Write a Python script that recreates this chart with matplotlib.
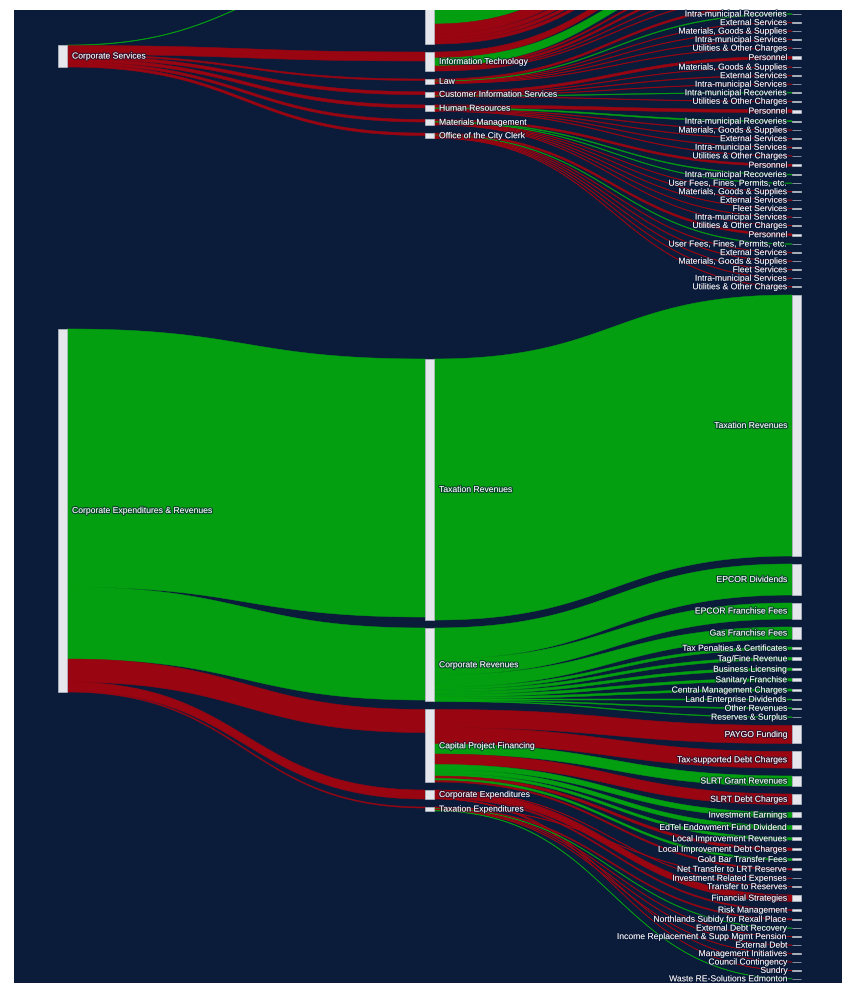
import numpy as np
import matplotlib
matplotlib.use("Agg")
import matplotlib.pyplot as plt
from matplotlib.patches import Rectangle
import matplotlib.patheffects as pe

# ---------------- data ----------------
# column 1 -> column 2 : Corporate Services to its branches
dept_names = ["Fleet Services", "Information Technology", "Law",
              "Customer Information Services", "Human Resources",
              "Materials Management", "Office of the City Clerk"]
cs_values = [0.5, 9, 1.5, 3, 3, 2.5, 2.5]
cs_kinds = ["rev", "exp", "exp", "exp", "exp", "exp", "exp"]

# column 2 -> column 3 : branch budget lines
fleet_cats = ["Personnel", "Intra-municipal Recoveries", "Materials, Goods & Supplies",
              "External Services", "Intra-municipal Services", "Utilities & Other Charges"]
fleet_vals = [24, 36, 10, 4, 3, 3]
it_cats = ["Personnel", "Intra-municipal Recoveries", "Materials, Goods & Supplies",
           "External Services", "Intra-municipal Services", "Utilities & Other Charges"]
it_vals = [6, 8, 1.5, 2, 0.8, 0.7]
law_cats = ["Personnel", "Intra-municipal Recoveries", "External Services",
            "Materials, Goods & Supplies", "Intra-municipal Services", "Utilities & Other Charges"]
law_vals = [2, 0.7, 0.5, 0.5, 0.5, 0.5]
cis_cats = ["Personnel", "Materials, Goods & Supplies", "External Services",
            "Intra-municipal Services", "Intra-municipal Recoveries", "Utilities & Other Charges"]
cis_vals = [2.5, 0.5, 0.6, 0.5, 0.6, 0.5]
hr_cats = ["Personnel", "Intra-municipal Recoveries", "Materials, Goods & Supplies",
           "External Services", "Intra-municipal Services", "Utilities & Other Charges"]
hr_vals = [3, 1.2, 0.6, 0.6, 0.6, 0.6]
mm_cats = ["Personnel", "Intra-municipal Recoveries", "User Fees, Fines, Permits, etc.",
           "Materials, Goods & Supplies", "External Services", "Fleet Services",
           "Intra-municipal Services", "Utilities & Other Charges"]
mm_vals = [2, 0.8, 0.5, 0.45, 0.45, 0.45, 0.45, 0.45]
clerk_cats = ["Personnel", "User Fees, Fines, Permits, etc.", "External Services",
              "Materials, Goods & Supplies", "Fleet Services", "Intra-municipal Services",
              "Utilities & Other Charges"]
clerk_vals = [2, 0.6, 0.6, 0.6, 0.5, 0.5, 0.5]
dept_cats = [fleet_cats, it_cats, law_cats, cis_cats, hr_cats, mm_cats, clerk_cats]
dept_vals = [fleet_vals, it_vals, law_vals, cis_vals, hr_vals, mm_vals, clerk_vals]
revenue_lines = ["Intra-municipal Recoveries", "User Fees, Fines, Permits, etc."]

# column 1 -> column 2 : Corporate Expenditures & Revenues
cer_targets = ["Taxation Revenues", "Corporate Revenues", "Capital Project Financing",
               "Corporate Expenditures", "Taxation Expenditures"]
cer_values = [258, 72, 23, 9, 1]
cer_kinds = ["rev", "rev", "exp", "exp", "exp"]

# column 2 -> column 3 : corporate programs
taxrev_cats = ["Taxation Revenues"]
taxrev_vals = [261]
taxrev_kinds = ["rev"]
corprev_cats = ["EPCOR Dividends", "EPCOR Franchise Fees", "Gas Franchise Fees",
                "Tax Penalties & Certificates", "Tag/Fine Revenue", "Business Licensing",
                "Sanitary Franchise", "Central Management Charges", "Land Enterprise Dividends",
                "Other Revenues", "Reserves & Surplus"]
corprev_vals = [31, 16, 12, 2.5, 2.5, 2.5, 2.5, 2, 0.8, 1, 0.7]
corprev_kinds = ["rev"] * 11
cpf_cats = ["PAYGO Funding", "Tax-supported Debt Charges", "SLRT Grant Revenues",
            "SLRT Debt Charges", "Investment Earnings", "EdTel Endowment Fund Dividend",
            "Local Improvement Revenues", "Local Improvement Debt Charges",
            "Gold Bar Transfer Fees", "Net Transfer to LRT Reserve"]
cpf_vals = [18, 16.5, 10, 10.5, 5, 4, 2.5, 2.5, 2, 1.5]
cpf_kinds = ["exp", "exp", "rev", "exp", "rev", "rev", "rev", "exp", "rev", "exp"]
cexp_cats = ["Transfer to Reserves", "Financial Strategies", "Risk Management",
             "Council Contingency", "Sundry"]
cexp_vals = [0.4, 6.5, 1.3, 0.4, 0.4]
cexp_kinds = ["exp", "exp", "exp", "exp", "exp"]
texp_cats = ["Investment Related Expenses", "Northlands Subidy for Rexall Place",
             "External Debt Recovery", "Income Replacement & Supp Mgmt Pension",
             "External Debt", "Management Initiatives", "Waste RE-Solutions Edmonton"]
texp_vals = [0.5, 1.2, 0.45, 0.45, 0.6, 0.4, 0.4]
texp_kinds = ["exp", "exp", "rev", "exp", "exp", "exp", "rev"]

# order of the corporate lines in the last column
corporate_line_order = ["Taxation Revenues", "EPCOR Dividends", "EPCOR Franchise Fees",
    "Gas Franchise Fees", "Tax Penalties & Certificates", "Tag/Fine Revenue",
    "Business Licensing", "Sanitary Franchise", "Central Management Charges",
    "Land Enterprise Dividends", "Other Revenues", "Reserves & Surplus", "PAYGO Funding",
    "Tax-supported Debt Charges", "SLRT Grant Revenues", "SLRT Debt Charges",
    "Investment Earnings", "EdTel Endowment Fund Dividend", "Local Improvement Revenues",
    "Local Improvement Debt Charges", "Gold Bar Transfer Fees", "Net Transfer to LRT Reserve",
    "Investment Related Expenses", "Transfer to Reserves", "Financial Strategies",
    "Risk Management", "Northlands Subidy for Rexall Place", "External Debt Recovery",
    "Income Replacement & Supp Mgmt Pension", "External Debt", "Management Initiatives",
    "Council Contingency", "Sundry", "Waste RE-Solutions Edmonton"]

# ---------------- style / layout ----------------
NAVY = "#0B1C3B"
GREEN = "#03A70E"
RED = "#A2040F"
NODE_FC = "#E5E7EC"
NODE_EC = "#B9BEC8"
COL_X = [58, 425, 792]
NODE_W = 9
PAD = 8
SCALE = 1.0
FONT = "Liberation Sans"
FS = 6.2
Y_TOP, Y_BOT = 10, 983

nodes = {}   # id -> dict(label, col)
links = []   # (src, tgt, value, kind)


def add_node(nid, label, col):
    if nid not in nodes:
        nodes[nid] = dict(label=label, col=col, vin=0.0, vout=0.0)


add_node("L:CS", "Corporate Services", 0)
add_node("L:CER", "Corporate Expenditures & Revenues", 0)
for d, v, k in zip(dept_names, cs_values, cs_kinds):
    add_node("M:" + d, d, 1)
    links.append(("L:CS", "M:" + d, v, k))
for d, cats, vals in zip(dept_names, dept_cats, dept_vals):
    for c, v in zip(cats, vals):
        add_node("R:" + d + "|" + c, c, 2)
        links.append(("M:" + d, "R:" + d + "|" + c, v,
                      "rev" if c in revenue_lines else "exp"))
for t, v, k in zip(cer_targets, cer_values, cer_kinds):
    add_node("M:" + t, t, 1)
    links.append(("L:CER", "M:" + t, v, k))
for src, cats, vals, kinds in [("Taxation Revenues", taxrev_cats, taxrev_vals, taxrev_kinds),
                               ("Corporate Revenues", corprev_cats, corprev_vals, corprev_kinds),
                               ("Capital Project Financing", cpf_cats, cpf_vals, cpf_kinds),
                               ("Corporate Expenditures", cexp_cats, cexp_vals, cexp_kinds),
                               ("Taxation Expenditures", texp_cats, texp_vals, texp_kinds)]:
    for c, v, k in zip(cats, vals, kinds):
        add_node("R:C|" + c, c, 2)
        links.append(("M:" + src, "R:C|" + c, v, k))

for s, t, v, k in links:
    nodes[s]["vout"] += v
    nodes[t]["vin"] += v
for n in nodes.values():
    n["h"] = max(n["vin"], n["vout"]) * SCALE

# segments: (ordered node ids, anchor id, anchor top y in px)
right_order = []
for d, cats in zip(dept_names, dept_cats):
    right_order += ["R:" + d + "|" + c for c in cats]
right_order += ["R:C|" + c for c in corporate_line_order]
segments = [
    (["L:CS"], "L:CS", 45),
    (["L:CER"], "L:CER", 329),
    (["M:" + d for d in dept_names], "M:Information Technology", 52),
    (["M:" + t for t in cer_targets], "M:Taxation Revenues", 359),
    (right_order, "R:C|Taxation Revenues", 295),
]
for order, anchor, ay in segments:
    y = 0.0
    for nid in order:
        nodes[nid]["y"] = y
        y += nodes[nid]["h"] + PAD
    shift = ay - nodes[anchor]["y"]
    for nid in order:
        nodes[nid]["y"] += shift

# stack links at each node, ordered by the position of the opposite node
out_off, in_off = {}, {}
for nid in nodes:
    outs = sorted([i for i, l in enumerate(links) if l[0] == nid], key=lambda i: nodes[links[i][1]]["y"])
    ins = sorted([i for i, l in enumerate(links) if l[1] == nid], key=lambda i: nodes[links[i][0]]["y"])
    y = nodes[nid]["y"]
    for i in outs:
        out_off[i] = y
        y += links[i][2] * SCALE
    y = nodes[nid]["y"]
    for i in ins:
        in_off[i] = y
        y += links[i][2] * SCALE

# ---------------- drawing ----------------
fig = plt.figure(figsize=(8.42, 9.83), dpi=100)
fig.patch.set_facecolor("white")
ax = fig.add_axes([14 / 842, 0, 828 / 842, (Y_BOT - Y_TOP) / 983])
ax.set_facecolor(NAVY)
ax.set_xlim(14, 842)
ax.set_ylim(Y_BOT, Y_TOP)
ax.set_xticks([])
ax.set_yticks([])
for sp in ax.spines.values():
    sp.set_visible(False)

t = np.linspace(0, 1, 80)
ease = 3 * t ** 2 - 2 * t ** 3
for i, (s, tg, v, k) in enumerate(links):
    x0 = COL_X[nodes[s]["col"]] + NODE_W
    x1 = COL_X[nodes[tg]["col"]]
    xm = (x0 + x1) / 2
    bx = (1 - t) ** 3 * x0 + 3 * (1 - t) ** 2 * t * xm + 3 * (1 - t) * t ** 2 * xm + t ** 3 * x1
    top = out_off[i] + (in_off[i] - out_off[i]) * ease
    bot = top + v * SCALE
    col = GREEN if k == "rev" else RED
    ax.fill(np.concatenate([bx, bx[::-1]]), np.concatenate([top, bot[::-1]]),
            facecolor=col, edgecolor=col, alpha=0.95, lw=0.35, zorder=2)

shadow = [pe.withStroke(linewidth=1.6, foreground=(0.03, 0.08, 0.2, 0.6))]
for nid, n in nodes.items():
    x = COL_X[n["col"]]
    ax.add_patch(Rectangle((x, n["y"]), NODE_W, max(n["h"], 0.4), facecolor=NODE_FC,
                           edgecolor=NODE_EC, lw=0.5, zorder=3))
    yc = n["y"] + n["h"] / 2
    if yc < Y_TOP or yc > Y_BOT - 1:
        continue  # label lies outside the visible window
    if n["col"] == 2:
        ax.text(x - 4, yc, n["label"], ha="right", va="center", fontsize=FS, family=FONT,
                color="white", zorder=5, path_effects=shadow)
    else:
        ax.text(x + NODE_W + 5, yc, n["label"], ha="left", va="center", fontsize=FS,
                family=FONT, color="white", zorder=5, path_effects=shadow)

fig.savefig("out.png", dpi=100, facecolor="white")
